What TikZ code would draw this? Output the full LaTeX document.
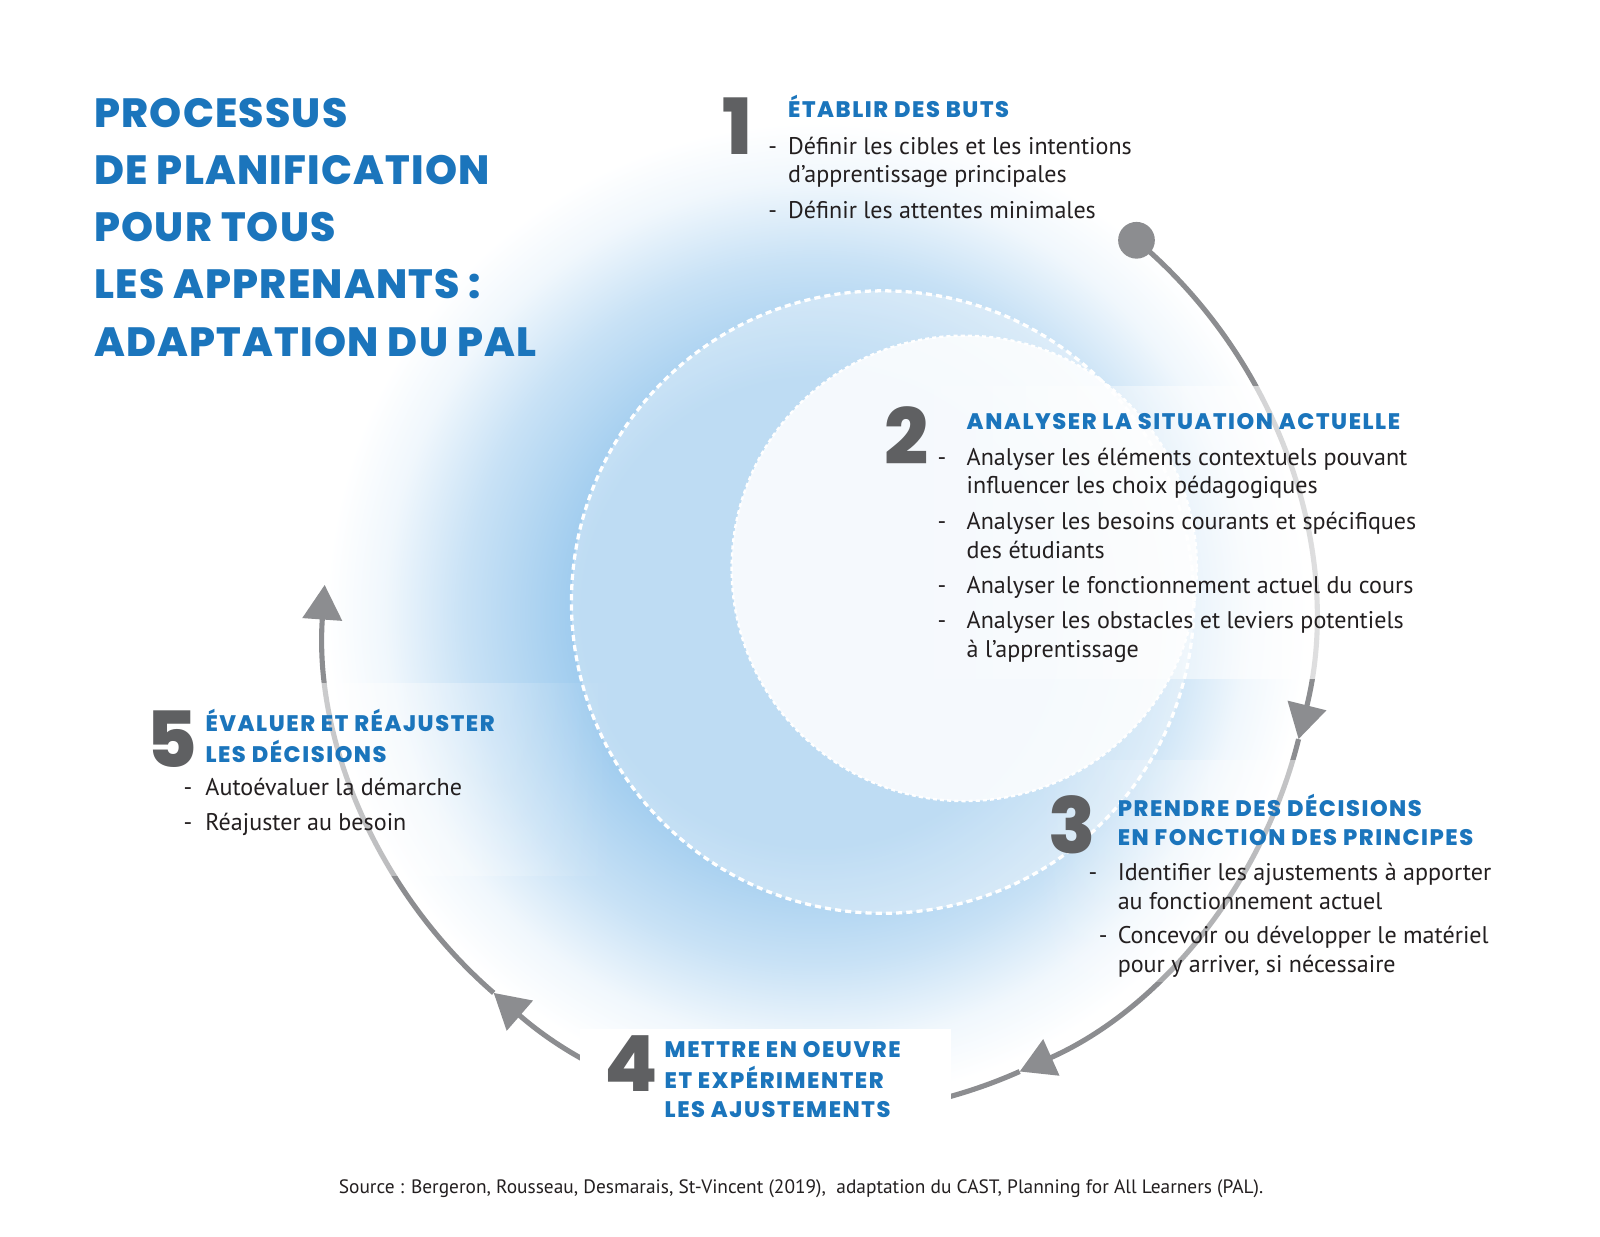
\documentclass[tikz,border=0pt]{standalone}
\usepackage{fontspec}
\setmainfont{PT Sans}
\newfontfamily\headfont{Poppins ExtraBold}[LetterSpace=7]
\newfontfamily\titlefont{Poppins ExtraBold}[LetterSpace=3]
\usetikzlibrary{arrows.meta,fadings}

\definecolor{palblue}{HTML}{1B75BC}
\definecolor{numgrey}{HTML}{5F6062}
\definecolor{arrowgrey}{HTML}{8C8D90}
\definecolor{glowblue}{HTML}{9CCAEE}
\definecolor{ink}{HTML}{231F20}

\pgfdeclareradialshading{glowring}{\pgfpointorigin}{%
  color(0bp)=(glowblue); color(12bp)=(glowblue); color(18bp)=(glowblue!55!white);
  color(22bp)=(glowblue!15!white); color(25bp)=(white); color(50bp)=(white)}
\tikzfading[name=fadeeast, left color=transparent!0, middle color=transparent!10, right color=transparent!100]
\tikzfading[name=fadewest, left color=transparent!100, middle color=transparent!10, right color=transparent!0]

\newcommand{\tiret}[1]{\llap{-\hspace{#1}}}

\tikzset{
  titre/.style={font=\titlefont\fontsize{20}{28}\selectfont, text=palblue, anchor=base west, inner sep=0pt},
  stepnum/.style={font=\headfont\fontsize{38}{38}\selectfont, text=numgrey, anchor=base west, inner sep=0pt},
  stephead/.style={font=\headfont\fontsize{11}{14.5}\selectfont, text=palblue, anchor=base west, inner sep=0pt},
  steplist/.style={font=\fontsize{11.8}{14}\selectfont, text=ink, anchor=base west, inner sep=0pt},
  flow/.style={draw=arrowgrey, line width=2.5pt},
  flowtip/.style={-{Triangle[length=17pt,width=19pt]}},
}

\begin{document}
\begin{tikzpicture}[x=0.5pt, y=-0.5pt]
  \useasboundingbox (0,0) rectangle (1568,1211.3);
  \fill[white] (0,0) rectangle (1568,1211.3);

  % blue glow and the two discs
  \shade[shading=glowring] (800,600) circle (480);
  \fill[white, fill opacity=.35] (865,590) circle (305);
  \draw[white, line width=1.6pt, dash pattern=on 3pt off 2pt] (865,590) circle (305);
  \fill[white, fill opacity=.85] (945,557) circle (228);
  \draw[white, line width=1.2pt, dash pattern=on 2pt off 1.5pt] (945,557) circle (228);

  % cycle arrow
  \coordinate (hub) at (802,607);
  \fill[arrowgrey] ([shift={(-50:485)}]hub) circle (18);
  \draw[flow, flowtip] ([shift={(-50:485)}]hub) arc[start angle=-50, end angle=14, radius=485];
  \draw[flow, flowtip] ([shift={(14:485)}]hub) arc[start angle=14, end angle=66, radius=485];
  \draw[flow, flowtip] ([shift={(66:485)}]hub) arc[start angle=66, end angle=131, radius=485];
  \draw[flow, flowtip] ([shift={(131:485)}]hub) arc[start angle=131, end angle=184, radius=485];

  % white veils behind the text blocks
  \fill[white, fill opacity=.9, path fading=fadewest] (855,378) rectangle (1400,665);
  \fill[white, fill opacity=.9, path fading=fadewest] (1015,745) rectangle (1475,962);
  \fill[white] (568,1008) rectangle (932,1110);
  \fill[white, fill opacity=.9, path fading=fadeeast] (135,669) rectangle (600,858);

  % title
  \node[titre] (titre) at (92,125) {\begin{tabular}[t]{@{}l@{}}PROCESSUS\\DE PLANIFICATION\\POUR TOUS\\LES APPRENANTS :\\ADAPTATION DU PAL\end{tabular}};

  % step 1
  \node[stepnum] (n1) at (708,151) {1};
  \node[stephead] (head1) at (772,115) {ÉTABLIR DES BUTS};
  \node[steplist] (list1) at (772,151) {\begin{tabular}[t]{@{}l@{}}\tiret{5.5pt}Définir les cibles et les intentions\\d’apprentissage principales\\[3.5pt]\tiret{5.5pt}Définir les attentes minimales\end{tabular}};

  % step 2
  \node[stepnum] (n2) at (866,455) {2};
  \node[stephead] (head2) at (947,421) {ANALYSER LA SITUATION ACTUELLE};
  \node[steplist] (list2) at (947,456) {\begin{tabular}[t]{@{}l@{}}\tiret{10pt}Analyser les éléments contextuels pouvant\\influencer les choix pédagogiques\\[3.5pt]\tiret{10pt}Analyser les besoins courants et spécifiques\\des étudiants\\[3.5pt]\tiret{10pt}Analyser le fonctionnement actuel du cours\\[3pt]\tiret{10pt}Analyser les obstacles et leviers potentiels\\à l’apprentissage\end{tabular}};

  % step 3
  \node[stepnum] (n3) at (1027,836) {3};
  \node[stephead] (head3) at (1095,800) {\begin{tabular}[t]{@{}l@{}}PRENDRE DES DÉCISIONS\\EN FONCTION DES PRINCIPES\end{tabular}};
  \node[steplist] (list3) at (1095,863) {\begin{tabular}[t]{@{}l@{}}\tiret{10pt}Identifier les ajustements à apporter\\au fonctionnement actuel\\[3pt]\tiret{5pt}Concevoir ou développer le matériel\\pour y arriver, si nécessaire\end{tabular}};

  % step 4
  \node[stepnum] (n4) at (592,1070) {4};
  \node[stephead] (head4) at (651,1036) {\begin{tabular}[t]{@{}l@{}}METTRE EN OEUVRE\\ET EXPÉRIMENTER\\LES AJUSTEMENTS\end{tabular}};

  % step 5
  \node[stepnum] (n5) at (143,752) {5};
  \node[stephead] (head5) at (201,717) {\begin{tabular}[t]{@{}l@{}}ÉVALUER ET RÉAJUSTER\\LES DÉCISIONS\end{tabular}};
  \node[steplist] (list5) at (201,780) {\begin{tabular}[t]{@{}l@{}}\tiret{6.5pt}Autoévaluer la démarche\\[3pt]\tiret{6.5pt}Réajuster au besoin\end{tabular}};

  % source
  \node[font=\fontsize{9.5}{11}\selectfont, text=ink, anchor=base, inner sep=0pt] (source) at (785,1170) {Source : Bergeron, Rousseau, Desmarais, St-Vincent (2019),\ \ adaptation du CAST, Planning for All Learners (PAL).};
\end{tikzpicture}
\end{document}
